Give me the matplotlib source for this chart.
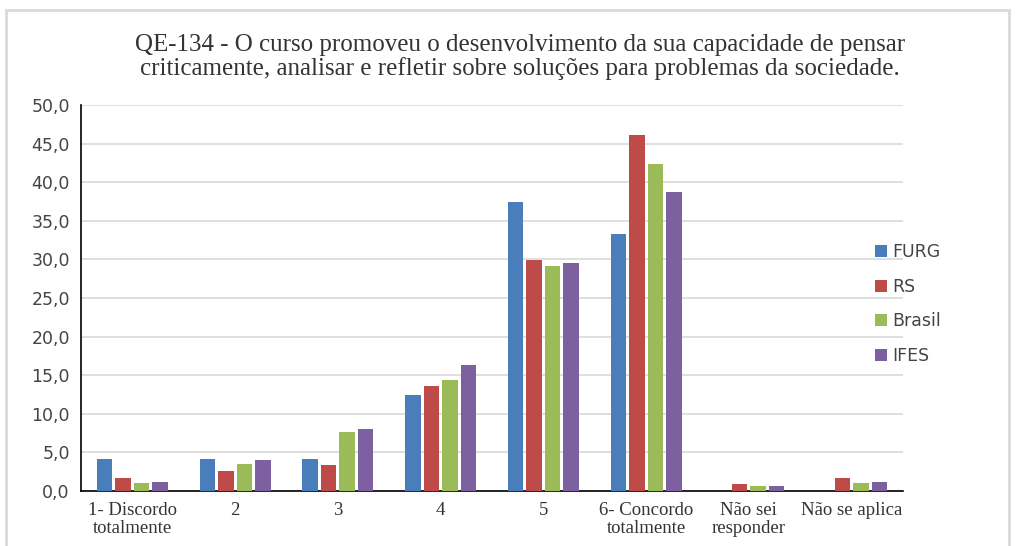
import numpy as np
import matplotlib.pyplot as plt
from matplotlib.patches import Rectangle

categories = ["1- Discordo\ntotalmente", "2", "3", "4", "5",
              "6- Concordo\ntotalmente", "Não sei\nresponder", "Não se aplica"]
series = ["FURG", "RS", "Brasil", "IFES"]
furg = [4.15, 4.15, 4.15, 12.4, 37.4, 33.3, 0.0, 0.0]
rs = [1.7, 2.6, 3.4, 13.6, 29.9, 46.1, 0.9, 1.7]
brasil = [1.05, 3.5, 7.6, 14.4, 29.1, 42.4, 0.65, 1.05]
ifes = [1.2, 4.0, 8.0, 16.3, 29.5, 38.7, 0.65, 1.2]
colors = ["#4a7ebb", "#be4b48", "#9bbb59", "#7d60a0"]

fig = plt.figure(figsize=(10.16, 5.46), dpi=100)
ax = fig.add_axes([0.0797, 0.1007, 0.809, 0.707])

# outer frame
fig.patches.append(Rectangle((6 / 1016, -0.01), 1003 / 1016, 1 - 10 / 546 + 0.01,
                             transform=fig.transFigure, fill=False,
                             edgecolor="#d9d9d9", linewidth=2))

x = np.arange(len(categories))
step = 0.18
width = 0.15
for i, (name, vals) in enumerate(zip(series, [furg, rs, brasil, ifes])):
    ax.bar(x + (i - 1.5) * step, vals, width, color=colors[i], label=name, zorder=3)

ax.set_xlim(-0.5, len(categories) - 0.5)
ax.set_ylim(0, 50)
ax.set_yticks(np.arange(0, 51, 5))
ax.set_yticklabels([f"{v:.1f}".replace(".", ",") for v in np.arange(0, 51, 5)],
                   fontsize=12.5, color="#444444", family="DejaVu Sans")
ax.set_xticks(x)
ax.set_xticklabels(categories, family="Liberation Serif", fontsize=13.5,
                   color="#333333", linespacing=1.1)
ax.tick_params(length=0, pad=8)
ax.tick_params(axis="x", pad=8)
ax.grid(axis="y", color="#d9d9d9", linewidth=1.2, zorder=0)
for s in ["top", "right"]:
    ax.spines[s].set_visible(False)
ax.spines["left"].set_color("black")
ax.spines["bottom"].set_color("black")
ax.spines["left"].set_linewidth(1.2)
ax.spines["bottom"].set_linewidth(1.2)

fig.text(0.512, 0.896, "QE-134 - O curso promoveu o desenvolvimento da sua capacidade de pensar\n"
         "criticamente, analisar e refletir sobre soluções para problemas da sociedade.",
         ha="center", va="center", family="Liberation Serif", fontsize=18,
         color="#333333", linespacing=1.05)

ax.legend(loc="center left", bbox_to_anchor=(0.947, 0.484), frameon=False,
          fontsize=12.5, handlelength=0.7, handleheight=0.7, handletextpad=0.3,
          labelspacing=0.95, labelcolor="#444444")

fig.savefig("out.png", dpi=100)
